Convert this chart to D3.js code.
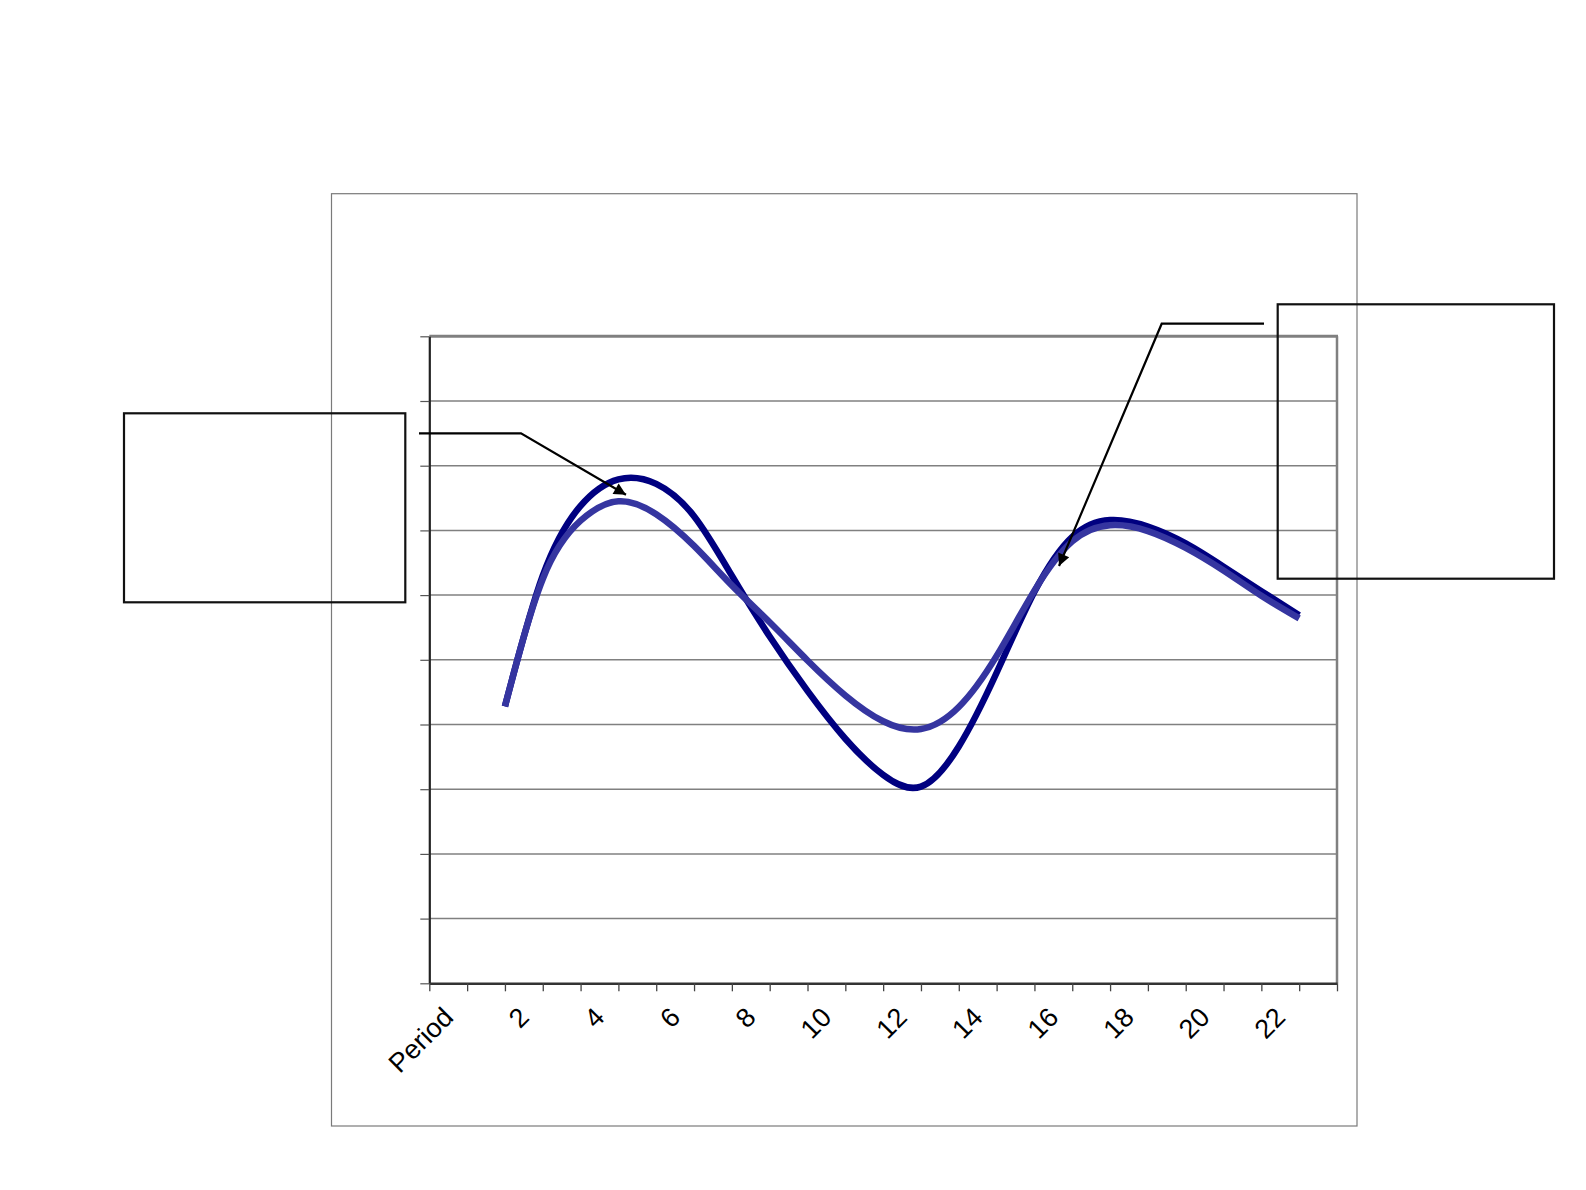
<!DOCTYPE html>
<html>
<head>
<meta charset="utf-8">
<script src="https://cdn.jsdelivr.net/npm/d3@7"></script>
<style>
  body { margin: 0; background: #fff; }
</style>
</head>
<body>
<div id="chart"></div>
<script>
// category labels along the bottom (only every second one is printed)
const categories = ["Period", "1", "2", "3", "4", "5", "6", "7", "8", "9", "10", "11",
                    "12", "13", "14", "15", "16", "17", "18", "19", "20", "21", "22", "23"];

// positions of the curve points, in category-boundary units
const curveX = [2, 3, 4, 5, 6, 7, 8, 9, 10, 11, 12, 13, 14, 15, 16, 17, 18, 19, 20, 21, 22, 23];

// the two smoothed series (gridline units)
const seriesDark  = [4.28, 6.30, 7.38, 7.79, 7.72, 7.22, 6.30, 5.36, 4.52, 3.78, 3.22,
                     3.04, 3.66, 4.80, 6.05, 6.90, 7.16, 7.06, 6.80, 6.44, 6.06, 5.69];
const seriesLight = [4.28, 6.25, 7.15, 7.45, 7.25, 6.76, 6.15, 5.58, 4.99, 4.45, 4.05,
                     3.93, 4.27, 5.06, 6.07, 6.83, 7.08, 6.99, 6.73, 6.38, 5.99, 5.64];

// gridlines, no labels shown on the value axis
const yTicks = [0, 1, 2, 3, 4, 5, 6, 7, 8, 9, 10];

const W = 1586, H = 1190;
const plot = {left: 429.3, top: 336.3, right: 1337, bottom: 983.3};

// empty callout boxes with elbow leader lines pointing at the curves
const callouts = [
  {box: [124, 413.3, 281.3, 189], elbow: [[419, 433.3], [521, 433.3]], target: [5.2, 7.55]},
  {box: [1277.7, 304.3, 276.3, 274.4], elbow: [[1264, 323.7], [1161.7, 323.7]], target: [16.65, 6.45]}
];

function add_svg(wrapper)
{
  var svg = d3.select(wrapper).select("svg");
  if (svg.empty())
    svg = d3.select(wrapper).append("svg");
  else
    svg.selectAll("*").remove();
  return svg.attr("width", W).attr("height", H);
}

function draw_chart(wrapper)
{
  let svg = add_svg(wrapper);

  svg.append("rect").attr("width", W).attr("height", H).attr("fill", "#fff");

  // chart area frame
  svg.append("rect")
    .attr("x", 331.5).attr("y", 193.7)
    .attr("width", 1357 - 331.5).attr("height", 1126 - 193.7)
    .attr("fill", "none")
    .attr("stroke", "#7a7a7a")
    .attr("stroke-width", 1.2);

  const x = d3.scaleLinear().domain([0, categories.length]).range([plot.left, plot.right]);
  const band = d3.scaleBand().domain(categories).range([plot.left, plot.right]);
  const y = d3.scaleLinear().domain([0, 10]).range([plot.bottom, plot.top]);

  // horizontal gridlines
  svg.append("g")
    .selectAll("line")
    .data(yTicks.filter(d => d > 0 && d < 10))
    .enter()
    .append("line")
    .attr("x1", plot.left).attr("x2", plot.right)
    .attr("y1", d => y(d)).attr("y2", d => y(d))
    .attr("stroke", "#808080")
    .attr("stroke-width", 1.5);

  // plot border, top and right in gray
  svg.append("line")
    .attr("x1", plot.left).attr("x2", plot.right + 1)
    .attr("y1", plot.top).attr("y2", plot.top)
    .attr("stroke", "#808080").attr("stroke-width", 3);
  svg.append("line")
    .attr("x1", plot.right).attr("x2", plot.right)
    .attr("y1", plot.top).attr("y2", plot.bottom)
    .attr("stroke", "#808080").attr("stroke-width", 2.5);

  // value axis: tick marks only
  let yAxis = svg.append("g")
    .attr("transform", "translate(" + plot.left + ",0)")
    .call(d3.axisLeft(y).tickValues(yTicks).tickSize(9).tickSizeOuter(0).tickFormat(""));
  yAxis.select(".domain").attr("stroke", "#222").attr("stroke-width", 2.2);
  yAxis.selectAll(".tick line").attr("stroke", "#555").attr("stroke-width", 1.2);

  // category axis: tick marks at category boundaries
  let xTicks = svg.append("g")
    .attr("transform", "translate(0," + plot.bottom + ")")
    .call(d3.axisBottom(x).tickValues(d3.range(categories.length + 1)).tickSize(8).tickSizeOuter(0).tickFormat(""));
  xTicks.select(".domain").attr("stroke", "#333").attr("stroke-width", 2.4);
  xTicks.selectAll(".tick line").attr("stroke", "#444").attr("stroke-width", 1.3);

  // category labels, rotated
  let xLabels = svg.append("g")
    .attr("transform", "translate(0," + plot.bottom + ")")
    .call(d3.axisBottom(band).tickSize(0).tickFormat((d, i) => i % 2 ? "" : d));
  xLabels.select(".domain").remove();
  xLabels.selectAll("text")
    .attr("x", 0).attr("y", 0)
    .attr("dy", "0.35em")
    .attr("transform", "translate(0,29) rotate(-45)")
    .attr("text-anchor", "end")
    .attr("font-family", "Arial, 'Liberation Sans', sans-serif")
    .attr("font-size", "27px")
    .attr("fill", "#000");

  const line = d3.line()
    .x(d => x(d[0]))
    .y(d => y(d[1]))
    .curve(d3.curveNatural);

  svg.append("path")
    .datum(curveX.map((v, i) => [v, seriesDark[i]]))
    .attr("d", line)
    .attr("fill", "none")
    .attr("stroke", "#000080")
    .attr("stroke-width", 6.5);

  svg.append("path")
    .datum(curveX.map((v, i) => [v, seriesLight[i]]))
    .attr("d", line)
    .attr("fill", "none")
    .attr("stroke", "#3535a0")
    .attr("stroke-width", 6.5);

  // arrow marker for the callouts
  svg.append("defs").append("marker")
    .attr("id", "arrow")
    .attr("viewBox", "0 0 10 10")
    .attr("refX", 10).attr("refY", 5)
    .attr("markerUnits", "userSpaceOnUse")
    .attr("markerWidth", 15).attr("markerHeight", 12)
    .attr("orient", "auto")
    .append("path")
    .attr("d", "M0,0L10,5L0,10z")
    .attr("fill", "#000");

  callouts.forEach(c => {
    svg.append("rect")
      .attr("x", c.box[0]).attr("y", c.box[1])
      .attr("width", c.box[2]).attr("height", c.box[3])
      .attr("fill", "none")
      .attr("stroke", "#111")
      .attr("stroke-width", 2.2);

    let pts = c.elbow.concat([[x(c.target[0]), y(c.target[1])]]);
    svg.append("path")
      .attr("d", d3.line()(pts))
      .attr("fill", "none")
      .attr("stroke", "#000")
      .attr("stroke-width", 2.2)
      .attr("marker-end", "url(#arrow)");
  });
}

draw_chart("#chart");
</script>
</body>
</html>
